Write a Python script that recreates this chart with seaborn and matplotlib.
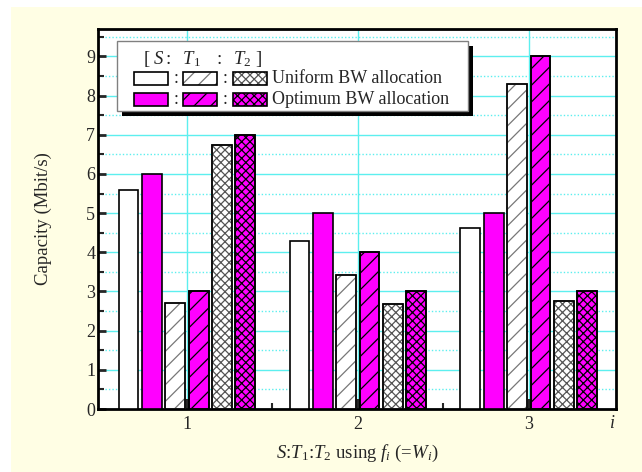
#!/usr/bin/env python3

import pandas as pd
import seaborn as sns
import matplotlib.pyplot as plt
from matplotlib.patches import Rectangle
from matplotlib.ticker import MultipleLocator

# -----------------------------------------------------------------------------
# Data
# -----------------------------------------------------------------------------

groups = ["1", "2", "3"]
s_uniform = [5.6, 4.3, 4.62]
s_optimum = [6.0, 5.0, 5.0]
t1_uniform = [2.7, 3.43, 8.3]
t1_optimum = [3.0, 4.0, 9.0]
t2_uniform = [6.75, 2.67, 2.75]
t2_optimum = [7.0, 3.0, 3.0]

series = ["S uniform", "S optimum", "T1 uniform", "T1 optimum",
          "T2 uniform", "T2 optimum"]
values = [s_uniform, s_optimum, t1_uniform, t1_optimum, t2_uniform, t2_optimum]

MAGENTA = "#FF00FF"
colors = ["white", MAGENTA, "white", MAGENTA, "white", MAGENTA]
hatches = ["", "", "//", "//", "xxxx", "xxxx"]
hatch_colors = ["black", "black", "#777777", "black", "#555555", "black"]
GRID = "#5CEFEF"
BG = "#FFFEE4"

rows = []
for name, vals in zip(series, values):
    for g, v in zip(groups, vals):
        rows.append({"i": g, "capacity": v, "series": name})
df = pd.DataFrame(rows)

# -----------------------------------------------------------------------------
# Style
# -----------------------------------------------------------------------------

sns.set_style("white")
plt.rcParams["font.family"] = ["Liberation Serif", "DejaVu Serif"]
plt.rcParams["mathtext.fontset"] = "custom"
plt.rcParams["mathtext.rm"] = "Liberation Serif"
plt.rcParams["mathtext.it"] = "Liberation Serif:italic"
plt.rcParams["hatch.linewidth"] = 0.9

fig = plt.figure(figsize=(6.42, 4.72), dpi=100, facecolor="white")
# pale yellow panel with a thin white margin on the top and left
fig.patches.append(Rectangle((11 / 642, 0), 1, 1 - 7 / 472, transform=fig.transFigure,
                             facecolor=BG, edgecolor="none", zorder=-10))
ax = fig.add_axes([98 / 642, 1 - 409 / 472, 518 / 642, 380 / 472])
ax.set_facecolor("white")

sns.barplot(data=df, x="i", y="capacity", hue="series", hue_order=series,
            palette=colors, width=0.82, gap=0.15, edgecolor="black",
            linewidth=1.2, saturation=1, legend=False, ax=ax, zorder=3)

# hatches: draw hatch in its own colour, then a black outline on top
for cont, h, hc in zip(ax.containers, hatches, hatch_colors):
    for bar in cont:
        if h:
            bar.set_hatch(h)
            bar.set_edgecolor(hc)
            ax.add_patch(Rectangle(bar.get_xy(), bar.get_width(), bar.get_height(),
                                   fill=False, edgecolor="black", linewidth=1.2,
                                   zorder=4))

# -----------------------------------------------------------------------------
# Axes
# -----------------------------------------------------------------------------

ax.set_xlim(-0.52, 2.51)
ax.set_ylim(0, 9.7)
ax.set_xticks([0, 1, 2], groups)
ax.set_xticks([0.5, 1.5], minor=True)
ax.yaxis.set_major_locator(MultipleLocator(1))
ax.yaxis.set_minor_locator(MultipleLocator(0.5))

ax.set_axisbelow(True)
ax.grid(which="major", axis="both", color=GRID, linewidth=1.0, linestyle="-")
ax.grid(which="minor", axis="y", color=GRID, linewidth=1.0, linestyle=(0, (1, 1.5)))

for sp in ax.spines.values():
    sp.set_visible(True)
    sp.set_linewidth(2)
    sp.set_color("black")

ax.tick_params(axis="y", which="major", direction="in", length=6, width=2,
               labelsize=13, pad=2, left=True, right=False)
ax.tick_params(axis="y", which="minor", direction="in", length=4, width=1.5,
               left=True, right=False)
ax.tick_params(axis="x", which="major", direction="in", length=7, width=3,
               labelsize=13, pad=5, bottom=True, top=False)
ax.tick_params(axis="x", which="minor", direction="in", length=4, width=1.5,
               bottom=True, top=False)

ax.set_ylabel("Capacity (Mbit/s)", fontsize=13.5)
ax.yaxis.set_label_coords(-0.088, 0.5)
ax.set_xlabel(r"$S$:$T_1$:$T_2$ using $f_i$ (=$W_i$)", fontsize=13.5)
ax.xaxis.set_label_coords(0.5, -0.09)
ax.text(0.994, -0.037, "i", style="italic", fontsize=13, transform=ax.transAxes,
        ha="center", va="center")

# -----------------------------------------------------------------------------
# Legend (drawn by hand: three swatches per row, separated by colons)
# -----------------------------------------------------------------------------

tr = ax.transAxes
ax.add_patch(Rectangle((0.0367 + 0.0097, 0.784 - 0.013), 0.677, 0.184,
                       transform=tr, facecolor="black", edgecolor="none",
                       zorder=8, clip_on=False))
ax.add_patch(Rectangle((0.0367, 0.784), 0.677, 0.184, transform=tr,
                       facecolor="white", edgecolor="#808080", linewidth=1.0,
                       zorder=9, clip_on=False))

ax.text(0.086, 0.921, r"$[\ S:\ \ T_1\ \ \ :\ \ T_2\ ]$", fontsize=13.5,
        transform=tr, ha="left", va="center", zorder=10)

swatch_x = [0.0695, 0.164, 0.261]
swatch_w = 0.066
row_y = [0.853, 0.797]
row_h = 0.034
row_labels = ["Uniform BW allocation", "Optimum BW allocation"]
for r, (y0, label) in enumerate(zip(row_y, row_labels)):
    for c, x0 in enumerate(swatch_x):
        k = 2 * c + r
        ax.add_patch(Rectangle((x0, y0), swatch_w, row_h, transform=tr,
                               facecolor=colors[k], hatch=hatches[k] or None,
                               edgecolor=hatch_colors[k], linewidth=0,
                               zorder=10, clip_on=False))
        ax.add_patch(Rectangle((x0, y0), swatch_w, row_h, transform=tr,
                               fill=False, edgecolor="black", linewidth=1.2,
                               zorder=11, clip_on=False))
    for cx in [0.151, 0.246]:
        ax.text(cx, y0 + row_h / 2, ":", fontsize=13, transform=tr,
                ha="center", va="center", zorder=11)
    ax.text(0.336, y0 + row_h / 2, label, fontsize=13, transform=tr,
            ha="left", va="center", zorder=11)

fig.savefig("out.png", dpi=100, facecolor="white")
